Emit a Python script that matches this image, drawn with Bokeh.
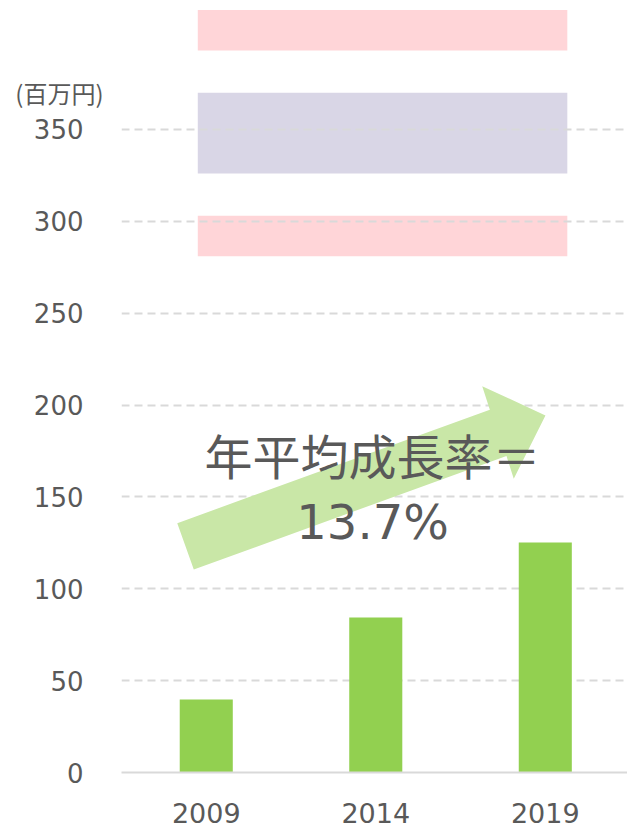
from bokeh.plotting import figure
from bokeh.models import Range1d, FixedTicker, Label, LinearAxis
from bokeh.embed import file_html
from bokeh.resources import INLINE

# ---- data ----
years = ["2009", "2014", "2019"]
sales = [39.7, 84.4, 125.2]          # 百万円
y_ticks = [0, 50, 100, 150, 200, 250, 300, 350]
unit_label = "(百万円)"
unit_label_y = 370.1
cagr_label = "年平均成長率＝"
cagr_value = "13.7%"

band_bottom = [281, 326, 393]
band_top = [303, 370, 415]
band_left = [0.45, 0.45, 0.45]
band_right = [2.63, 2.63, 2.63]
band_colors = ["#FFD5D8", "#D9D6E6", "#FFD5D8"]

arrow_x = [0.329, 2.173, 2.128, 2.501, 2.314, 2.271, 0.4265]
arrow_y = [135.7, 197.5, 210.3, 194.3, 159.9, 172.3, 110.5]

x_pos = [i + 0.5 for i in range(len(years))]

TEXT = "#595959"
GRID = "#D9D9D9"

p = figure(width=627, height=828,
           x_range=Range1d(0, 2.985), y_range=Range1d(0, 420.2),
           output_backend="svg", toolbar_location=None,
           min_border_left=121, min_border_right=0,
           min_border_top=0, min_border_bottom=56)
p.outline_line_color = None
p.background_fill_color = "white"

# bands (under grid)
p.quad(left=band_left, right=band_right, bottom=band_bottom, top=band_top,
       fill_color=band_colors, line_color=None, level="image")

# bars
p.vbar(x=x_pos, top=sales, width=0.313, fill_color="#92D050", line_color=None)

# arrow
p.patch(arrow_x, arrow_y, fill_color="#C9E7A7", line_color=None)

# main y axis
ya = p.yaxis[0]
ya.ticker = FixedTicker(ticks=y_ticks)
ya.axis_line_color = None
ya.major_tick_line_color = None
ya.minor_tick_line_color = None
ya.major_label_standoff = 32
ya.major_label_text_font = "DejaVu Sans"
ya.major_label_text_font_size = "26px"
ya.major_label_text_color = TEXT

# unit label as an outer axis with a single labelled tick
ua = LinearAxis(ticker=FixedTicker(ticks=[unit_label_y]),
                major_label_overrides={unit_label_y: unit_label})
ua.axis_line_color = None
ua.major_tick_line_color = None
ua.minor_tick_line_color = None
ua.major_label_standoff = -79
ua.major_label_text_font = "Noto Sans CJK JP"
ua.major_label_text_font_size = "24px"
ua.major_label_text_color = TEXT
p.add_layout(ua, "left")

xa = p.xaxis[0]
xa.ticker = FixedTicker(ticks=x_pos)
xa.major_label_overrides = {x: y for x, y in zip(x_pos, years)}
xa.axis_line_color = GRID
xa.axis_line_width = 2
xa.major_tick_line_color = None
xa.minor_tick_line_color = None
xa.major_label_standoff = 24
xa.major_label_text_font = "DejaVu Sans"
xa.major_label_text_font_size = "27px"
xa.major_label_text_color = TEXT

p.xgrid.visible = False
p.ygrid.ticker = FixedTicker(ticks=y_ticks)
p.ygrid.grid_line_color = GRID
p.ygrid.grid_line_width = 2
p.ygrid.grid_line_dash = "8 5"

# texts
p.add_layout(Label(x=1.481, y=173.6, text=cagr_label, text_align="center",
                   text_baseline="middle", text_font="Noto Sans CJK JP",
                   text_font_size="48px", text_color=TEXT))
p.add_layout(Label(x=1.481, y=136.1, text=cagr_value, text_align="center",
                   text_baseline="middle", text_font="DejaVu Sans",
                   text_font_size="48px", text_color=TEXT))

open("out.html", "w").write(file_html(p, INLINE))
